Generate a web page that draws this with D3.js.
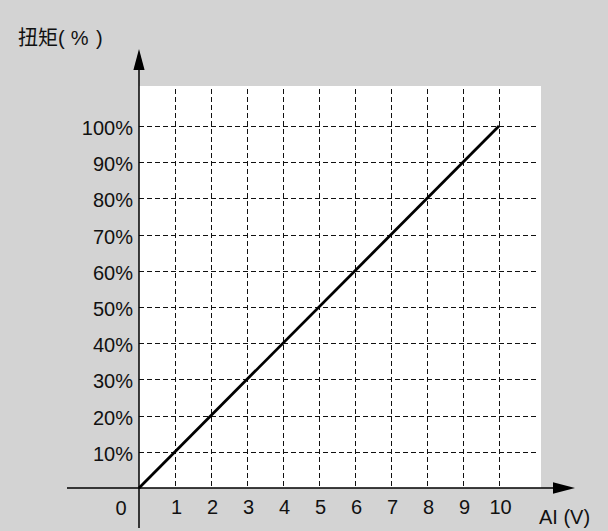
<!DOCTYPE html>
<html>
<head>
<meta charset="utf-8">
<script src="https://cdn.jsdelivr.net/npm/d3@7"></script>
<style>
  html, body { margin: 0; padding: 0; background: #d3d3d3; }
  svg { display: block; }
  text { font-family: "Liberation Sans", Arial, sans-serif; fill: #111; }
</style>
</head>
<body>
<div id="chart"></div>
<script>
// ---- data ----
const xTicks = [1, 2, 3, 4, 5, 6, 7, 8, 9, 10];
const yTicks = [10, 20, 30, 40, 50, 60, 70, 80, 90, 100];
const yTickLabels = ["10%", "20%", "30%", "40%", "50%", "60%", "70%", "80%", "90%", "100%"];
const lineX = [0, 10];        // AI (V)
const lineY = [0, 100];       // torque %
const yTitle = "扭矩(%)";
const xTitle = "AI (V)";
const originLabel = "0";

// ---- layout ----
const W = 608, H = 531;
const svg = d3.select("#chart").append("svg").attr("width", W).attr("height", H);
svg.append("rect").attr("width", W).attr("height", H).attr("fill", "#d3d3d3");

const x = d3.scaleLinear().domain([0, 10]).range([139, 499]);
const y = d3.scaleLinear().domain([0, 100]).range([488, 126]);
const px = v => Math.round(v) + 0.5;

// white plot area
svg.append("rect")
  .attr("x", x(0)).attr("y", 86)
  .attr("width", 541 - x(0)).attr("height", y(0) - 86)
  .attr("fill", "#ffffff");

// gridlines
const dash = "5,3";
svg.append("g").selectAll("line").data(xTicks).join("line")
  .attr("x1", d => px(x(d))).attr("x2", d => px(x(d)))
  .attr("y1", 89).attr("y2", y(0))
  .attr("stroke", "#111").attr("stroke-width", 1)
  .attr("stroke-dasharray", dash);
svg.append("g").selectAll("line").data(yTicks).join("line")
  .attr("x1", x(0)).attr("x2", 537)
  .attr("y1", d => px(y(d))).attr("y2", d => px(y(d)))
  .attr("stroke", "#111").attr("stroke-width", 1)
  .attr("stroke-dasharray", dash);

// axes
svg.append("line").attr("x1", 67).attr("x2", 556).attr("y1", y(0)).attr("y2", y(0))
  .attr("stroke", "#000").attr("stroke-width", 1.5);
svg.append("line").attr("x1", x(0)).attr("x2", x(0)).attr("y1", 66).attr("y2", 528)
  .attr("stroke", "#000").attr("stroke-width", 1.5);
// arrowheads
svg.append("path")
  .attr("d", `M${x(0)},49 L${x(0) + 5.6},70 L${x(0) - 5.6},70 Z`).attr("fill", "#000");
svg.append("path")
  .attr("d", `M575,${y(0)} L553,${y(0) - 5.8} L553,${y(0) + 5.8} Z`).attr("fill", "#000");

// data line
const pts = lineX.map((v, i) => [v, lineY[i]]);
svg.append("path")
  .datum(pts)
  .attr("d", d3.line().x(d => x(d[0])).y(d => y(d[1])))
  .attr("fill", "none").attr("stroke", "#000").attr("stroke-width", 2.8);

// y tick labels
svg.append("g").selectAll("text").data(yTicks).join("text")
  .attr("x", 133).attr("y", d => y(d) + 9)
  .attr("text-anchor", "end").attr("font-size", 20)
  .text((d, i) => yTickLabels[i]);

// x tick labels
svg.append("g").selectAll("text").data(xTicks).join("text")
  .attr("x", d => x(d) + 1.5).attr("y", 514)
  .attr("text-anchor", "middle").attr("font-size", 20)
  .text(d => d);
svg.append("text").attr("x", 121).attr("y", 515)
  .attr("text-anchor", "middle").attr("font-size", 20).text(originLabel);

// axis titles
svg.append("text").attr("x", 539).attr("y", 524).attr("font-size", 20).text(xTitle);

const t = svg.append("text").attr("x", 18).attr("y", 45).attr("font-size", 20);
t.append("tspan").style("font-family", '"Noto Sans CJK SC", sans-serif').text(yTitle.slice(0, 2));
t.append("tspan").attr("dx", 0).text(yTitle.slice(2, 3));
t.append("tspan").attr("dx", 6).text(yTitle.slice(3, 4));
t.append("tspan").attr("dx", 7.5).text(yTitle.slice(4, 5));
</script>
</body>
</html>
